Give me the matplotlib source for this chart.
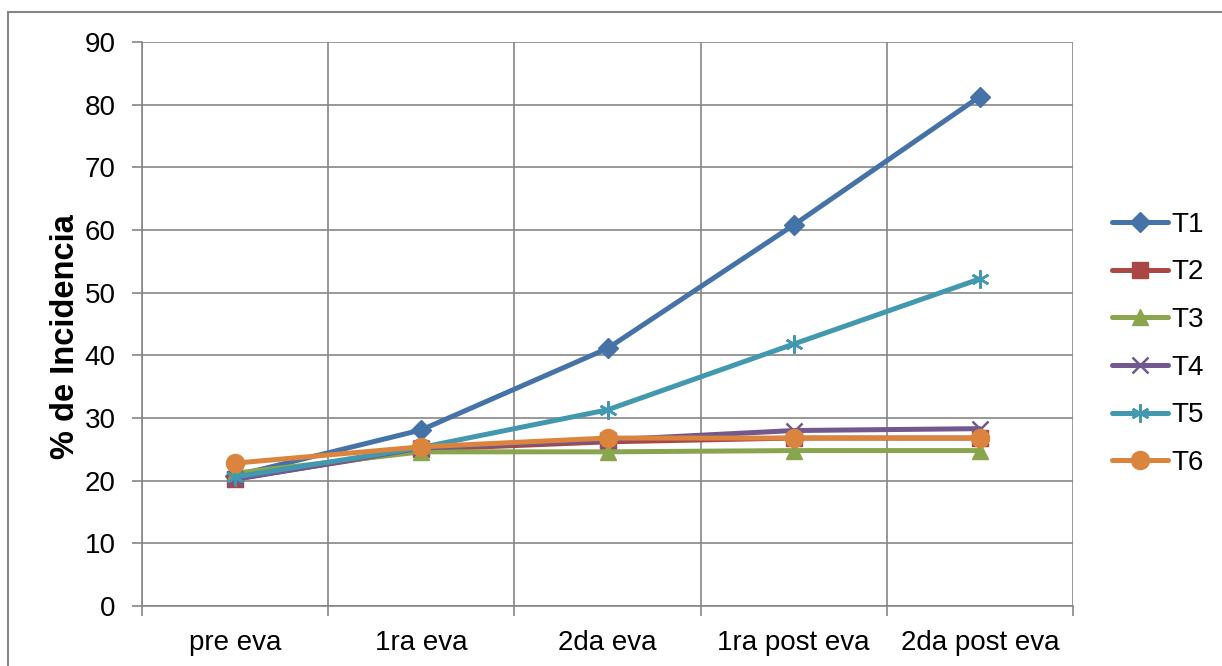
import matplotlib
matplotlib.use("Agg")
import matplotlib.pyplot as plt
from matplotlib.patches import Rectangle
import numpy as np

categories = ["pre eva", "1ra eva", "2da eva", "1ra post eva", "2da post eva"]
T1 = [20.8, 28.1, 41.1, 60.8, 81.3]
T2 = [20.3, 25.0, 26.2, 26.8, 26.8]
T3 = [21.2, 24.6, 24.6, 24.8, 24.8]
T4 = [20.2, 25.2, 26.5, 28.0, 28.3]
T5 = [20.6, 25.3, 31.3, 41.8, 52.2]
T6 = [22.8, 25.4, 26.8, 26.8, 26.8]
series_names = ["T1", "T2", "T3", "T4", "T5", "T6"]
y_ticks = [0, 10, 20, 30, 40, 50, 60, 70, 80, 90]

colors = ["#4572A7", "#AA4643", "#89A54E", "#71588F", "#4198AF", "#DB843D"]
markers = ["D", "s", "^", "x", (6, 2, 0), "o"]
msizes = [10, 11, 12, 11, 13, 13]

plt.rcParams['font.family'] = ['Liberation Sans', 'DejaVu Sans']
FS = 20

fig = plt.figure(figsize=(12.22, 6.66), dpi=100)
ax = fig.add_axes([142/1222, 60/666, 931/1222, 564/666])

x = np.arange(len(categories))
data = [T1, T2, T3, T4, T5, T6]
for name, vals, c, m, ms in zip(series_names, data, colors, markers, msizes):
    mew = 1.8 if m in ("x", (6, 2, 0)) else 1
    ax.plot(x, vals, color=c, lw=3.6, marker=m, ms=ms, mec=c, mfc=c, mew=mew,
            label=name, solid_capstyle='round')

grid_c = "#868686"
ax.set_xlim(-0.5, len(categories) - 0.5)
ax.set_ylim(0, 90)
ax.set_yticks(y_ticks)
ax.set_xticks(x)
ax.set_xticklabels(categories)
ax.set_xticks(np.arange(-0.5, len(categories)), minor=True)
ax.tick_params(axis='x', which='major', length=0, labelsize=FS, pad=17)
ax.tick_params(axis='x', which='minor', length=7, width=1.2, color=grid_c)
ax.tick_params(axis='y', length=7, width=1.2, color=grid_c, labelsize=FS, pad=12)
ax.grid(True, axis='y', color=grid_c, lw=1.2)
ax.grid(True, axis='x', which='minor', color=grid_c, lw=1.2)
ax.set_axisbelow(True)
for s in ['top', 'right']:
    ax.spines[s].set_visible(False)
for s in ['left', 'bottom']:
    ax.spines[s].set_color(grid_c)
    ax.spines[s].set_linewidth(1.2)
ax.set_ylabel("% de Incidencia", fontsize=23.5, fontweight='bold')
ax.yaxis.set_label_coords(-0.066, 0.477)

leg = ax.legend(loc='center left', bbox_to_anchor=(1.03, 0.465), frameon=False,
                fontsize=FS, handlelength=2.0, labelspacing=0.78, handletextpad=0.15,
                borderaxespad=0)

fig.patches.append(Rectangle((8/1222, -0.1), 1.2, (666-12)/666 + 0.1, transform=fig.transFigure,
                             fill=False, ec="#868686", lw=1.5))

fig.savefig("out.png", dpi=100)
